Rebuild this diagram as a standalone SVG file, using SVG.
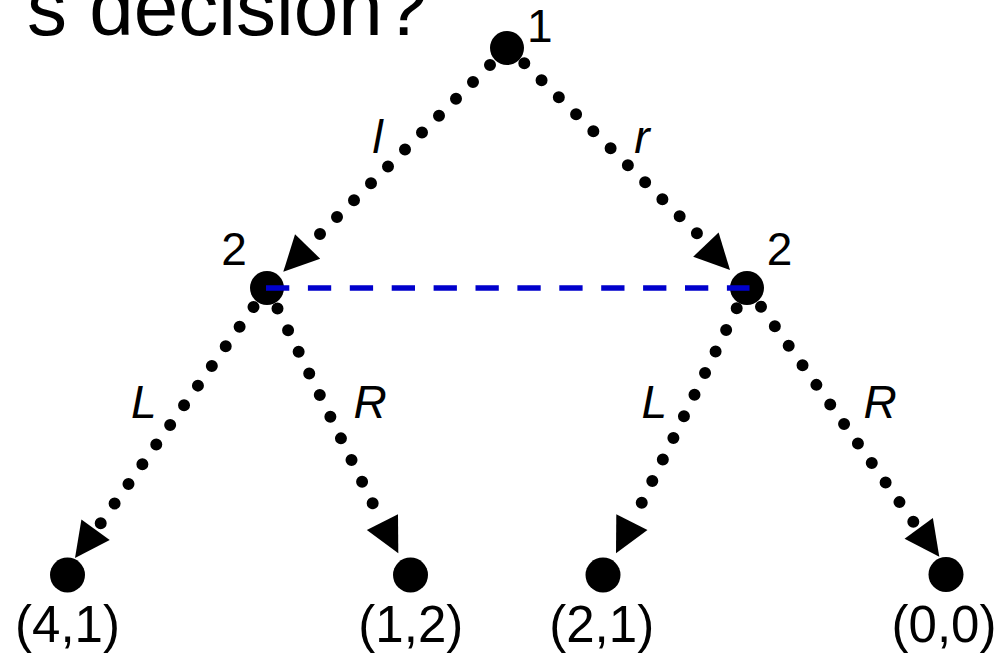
<svg xmlns="http://www.w3.org/2000/svg" xmlns:xlink="http://www.w3.org/1999/xlink" width="1002" height="654" viewBox="0 0 1002 654">
<style>
.node{fill:#000}
.lbl{font-family:"Liberation Sans",Arial,sans-serif;fill:#000}
.nl{font-size:46px}
.leaf{font-size:51px;text-anchor:middle}
.el{font-size:46px;font-style:italic;text-anchor:middle}
.dot{fill:none;stroke:#000;stroke-width:12;stroke-linecap:round}
.info{fill:none;stroke:#0000cc;stroke-width:5.5;stroke-dasharray:23.3 18.6}
</style>
<defs>
<path id="ah" d="M0,0 L-35,-17.5 L-35,17.5 Z" fill="#000"/>
</defs>
<rect width="1002" height="654" fill="#fff"/>
<text class="lbl" x="27" y="35" font-size="80">s decision?</text>
<g id="n1"><circle class="node" cx="507" cy="48" r="17"/><text class="lbl nl" x="527" y="42">1</text></g>
<g id="n2a"><circle class="node" cx="267" cy="288" r="17"/><text class="lbl nl" x="234" y="265" text-anchor="middle">2</text></g>
<g id="n2b"><circle class="node" cx="747" cy="288" r="17"/><text class="lbl nl" x="779.5" y="265" text-anchor="middle">2</text></g>
<g id="t1"><circle class="node" cx="67.5" cy="575" r="17.5"/><text class="lbl leaf" x="67.5" y="642">(4,1)</text></g>
<g id="t2"><circle class="node" cx="410.5" cy="575" r="17.5"/><text class="lbl leaf" x="410.8" y="642">(1,2)</text></g>
<g id="t3"><circle class="node" cx="603" cy="575" r="17.5"/><text class="lbl leaf" x="601.7" y="642">(2,1)</text></g>
<g id="t4"><circle class="node" cx="946" cy="574.5" r="17.5"/><text class="lbl leaf" x="944" y="642">(0,0)</text></g>
<g id="connectors">
<path class="dot" d="M490,65 L319.3,234.7" stroke-dasharray="0 23.97"/>
<use xlink:href="#ah" transform="translate(283.3,271.7) rotate(134)"/>
<text class="lbl el" x="377.5" y="153">l</text>
<path class="dot" d="M524.3,63.3 L697.6,234" stroke-dasharray="0 24.23"/>
<use xlink:href="#ah" transform="translate(730,270) rotate(46.5)"/>
<text class="lbl el" x="641.8" y="153">r</text>
<path class="dot" d="M253.5,307 L100.1,524.1" stroke-dasharray="0 24.07"/>
<use xlink:href="#ah" transform="translate(75,558) rotate(126)"/>
<text class="lbl el" x="143.9" y="418">L</text>
<path class="dot" d="M277.5,308.5 L373.1,504.2" stroke-dasharray="0 24.09"/>
<use xlink:href="#ah" transform="translate(398.3,553.3) rotate(63)"/>
<text class="lbl el" x="370" y="418">R</text>
<path class="dot" d="M736.7,308.3 L641.3,503.6" stroke-dasharray="0 24.04"/>
<use xlink:href="#ah" transform="translate(616,553.3) rotate(117)"/>
<text class="lbl el" x="654.3" y="418">L</text>
<path class="dot" d="M761,306.7 L913.9,522.5" stroke-dasharray="0 23.95"/>
<use xlink:href="#ah" transform="translate(939.3,556.7) rotate(54)"/>
<text class="lbl el" x="880" y="418">R</text>
<path class="info" d="M266,288 H749.5"/>
</g>
</svg>
